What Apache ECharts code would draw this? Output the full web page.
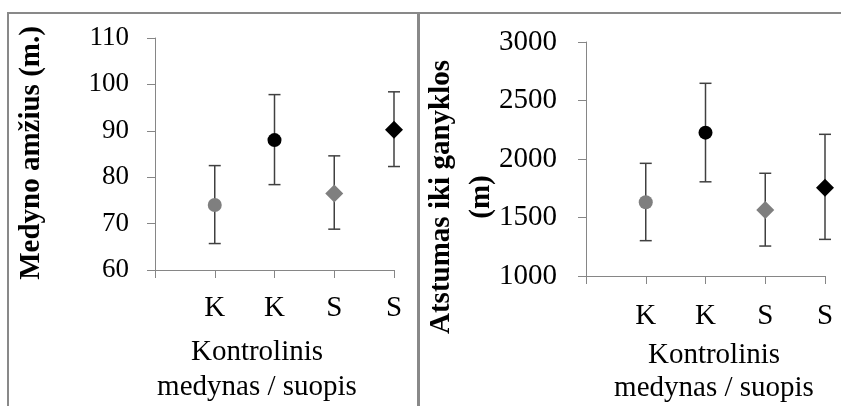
<!DOCTYPE html>
<html>
<head>
<meta charset="utf-8">
<script src="https://cdn.jsdelivr.net/npm/echarts@6/dist/echarts.min.js"></script>
<style>
  html, body { margin: 0; padding: 0; background: #fff; }
  #chart { width: 841px; height: 406px; }
</style>
</head>
<body>
<div id="chart"></div>
<script>
// category labels under the x ticks (first tick at 0 has no label)
const categories = ['K', 'K', 'S', 'S'];

// left panel: stand age (years)
const ageMean = [74.0, 88.0, 76.5, 90.2];
const ageLow = [65.7, 78.4, 68.8, 82.3];
const ageHigh = [82.5, 97.8, 84.6, 98.4];

// right panel: distance to pasture (m)
const distMean = [1630, 2225, 1565, 1755];
const distLow = [1302, 1805, 1256, 1313];
const distHigh = [1963, 2647, 1878, 2211];

// marker look per category
const markerSymbols = ['circle', 'circle', 'diamond', 'diamond'];
const markerSizes = [14, 14, 18, 18];
const markerColors = ['#7f7f7f', '#000000', '#7f7f7f', '#000000'];

const serif = '"Liberation Serif", "Times New Roman", serif';
const axisGray = '#868686';

let myChart = echarts.init(document.getElementById('chart'));

function makeX(gridIndex, labelMargin, fontSize) {
  return {
    type: 'value',
    gridIndex: gridIndex,
    min: 0,
    max: 4,
    interval: 1,
    splitLine: { show: false },
    axisLine: { show: true, lineStyle: { color: axisGray, width: 1 } },
    axisTick: { show: true, length: 8, lineStyle: { color: axisGray } },
    axisLabel: {
      margin: labelMargin,
      color: '#000',
      fontFamily: serif,
      fontSize: fontSize,
      formatter: function (v) { return v === 0 ? '' : categories[v - 1]; }
    }
  };
}

function makeY(gridIndex, min, max, interval, labelMargin, fontSize) {
  return {
    type: 'value',
    gridIndex: gridIndex,
    min: min,
    max: max,
    interval: interval,
    splitLine: { show: false },
    axisLine: { show: true, lineStyle: { color: axisGray, width: 1 } },
    axisTick: { show: true, length: 8, lineStyle: { color: axisGray } },
    axisLabel: {
      margin: labelMargin,
      color: '#000',
      fontFamily: serif,
      fontSize: fontSize,
      formatter: function (v) { return String(v); }
    }
  };
}

function errorSeries(idx, low, high) {
  return {
    type: 'custom',
    xAxisIndex: idx,
    yAxisIndex: idx,
    z: 1,
    data: low.map(function (l, i) { return [i + 1, l, high[i]]; }),
    renderItem: function (params, api) {
      let top = api.coord([api.value(0), api.value(2)]);
      let bot = api.coord([api.value(0), api.value(1)]);
      let half = 6;
      let st = { stroke: '#404040', lineWidth: 1.5 };
      return {
        type: 'group',
        children: [
          { type: 'line', shape: { x1: top[0], y1: top[1], x2: bot[0], y2: bot[1] }, style: st },
          { type: 'line', shape: { x1: top[0] - half, y1: top[1], x2: top[0] + half, y2: top[1] }, style: st },
          { type: 'line', shape: { x1: bot[0] - half, y1: bot[1], x2: bot[0] + half, y2: bot[1] }, style: st }
        ]
      };
    }
  };
}

function pointSeries(idx, mean) {
  return {
    type: 'scatter',
    xAxisIndex: idx,
    yAxisIndex: idx,
    z: 3,
    data: mean.map(function (m, i) {
      return {
        value: [i + 1, m],
        symbol: markerSymbols[i],
        symbolSize: markerSizes[i],
        itemStyle: { color: markerColors[i], opacity: 1 }
      };
    })
  };
}

let border = { stroke: '#898989', lineWidth: 2 };

let option = {
  animation: false,
  backgroundColor: '#fff',
  grid: [
    { left: 155, top: 38, width: 239, height: 232 },
    { left: 586, top: 42, width: 239, height: 234 }
  ],
  xAxis: [makeX(0, 24, 29), makeX(1, 26, 29)],
  yAxis: [makeY(0, 60, 110, 10, 26, 27), makeY(1, 1000, 3000, 500, 29, 29)],
  series: [
    errorSeries(0, ageLow, ageHigh),
    pointSeries(0, ageMean),
    errorSeries(1, distLow, distHigh),
    pointSeries(1, distMean)
  ],
  graphic: [
    // panel frames
    { type: 'line', shape: { x1: 7, y1: 13, x2: 841, y2: 13 }, style: border },
    { type: 'line', shape: { x1: 8, y1: 12, x2: 8, y2: 406 }, style: border },
    { type: 'line', shape: { x1: 418.5, y1: 12, x2: 418.5, y2: 406 }, style: { stroke: '#898989', lineWidth: 3 } },
    // y titles
    {
      type: 'text', x: 32, y: 153, rotation: Math.PI / 2,
      style: { text: 'Medyno amžius (m.)', fontFamily: serif, fontSize: 29, fontWeight: 'bold', fill: '#000', align: 'center', verticalAlign: 'middle' }
    },
    {
      type: 'text', x: 462, y: 197, rotation: Math.PI / 2,
      style: { text: 'Atstumas iki ganyklos\n(m)', fontFamily: serif, fontSize: 29, fontWeight: 'bold', lineHeight: 40, fill: '#000', align: 'center', verticalAlign: 'middle' }
    },
    // x titles
    {
      type: 'text', x: 257, y: 370,
      style: { text: 'Kontrolinis\nmedynas / suopis', fontFamily: serif, fontSize: 29, lineHeight: 35, fill: '#000', align: 'center', verticalAlign: 'middle' }
    },
    {
      type: 'text', x: 714, y: 372,
      style: { text: 'Kontrolinis\nmedynas / suopis', fontFamily: serif, fontSize: 29, lineHeight: 33, fill: '#000', align: 'center', verticalAlign: 'middle' }
    }
  ]
};

myChart.setOption(option);
</script>
</body>
</html>
